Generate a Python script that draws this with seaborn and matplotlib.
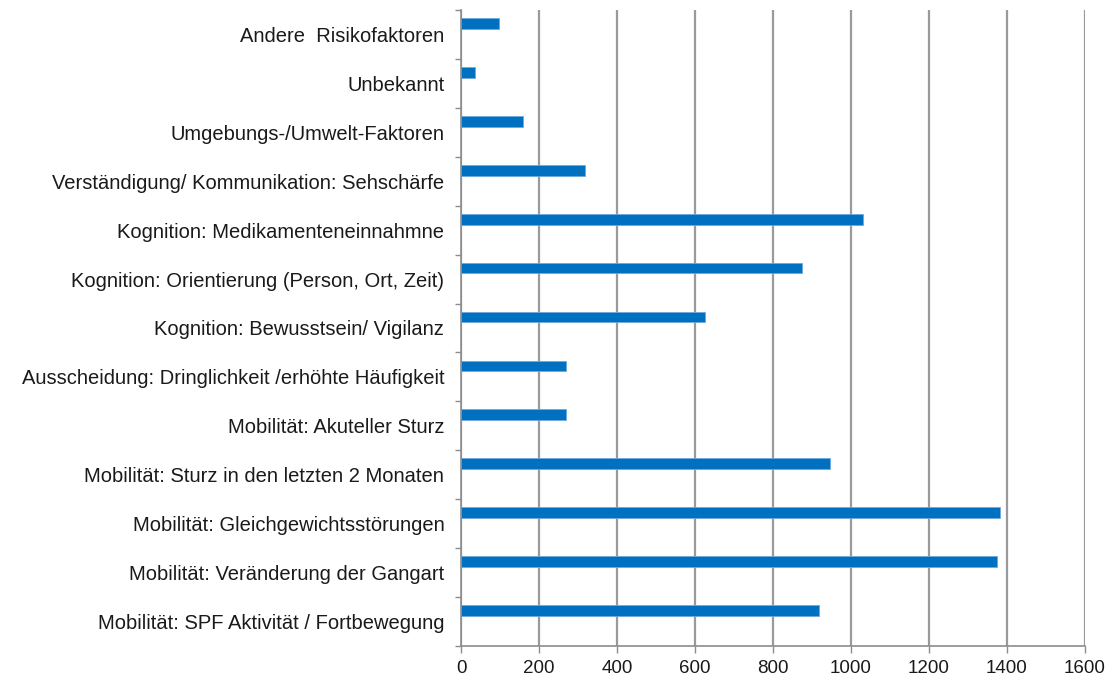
import pandas as pd
import matplotlib.pyplot as plt
import seaborn as sns
import numpy as np

# categories (top to bottom as in the chart)
faktoren = [
    'Andere  Risikofaktoren',
    'Unbekannt',
    'Umgebungs-/Umwelt-Faktoren',
    'Verständigung/ Kommunikation: Sehschärfe',
    'Kognition: Medikamenteneinnahmne',
    'Kognition: Orientierung (Person, Ort, Zeit)',
    'Kognition: Bewusstsein/ Vigilanz',
    'Ausscheidung: Dringlichkeit /erhöhte Häufigkeit',
    'Mobilität: Akuteller Sturz',
    'Mobilität: Sturz in den letzten 2 Monaten',
    'Mobilität: Gleichgewichtsstörungen',
    'Mobilität: Veränderung der Gangart',
    'Mobilität: SPF Aktivität / Fortbewegung',
]
anzahl = [97, 35, 159, 318, 1032, 874, 625, 270, 270, 945, 1383, 1375, 918]
x_ticks = [0, 200, 400, 600, 800, 1000, 1200, 1400, 1600]

df = pd.DataFrame({'Faktor': faktoren, 'Anzahl': anzahl, 'Reihe': 'Anzahl'})

sns.set_style('white')
plt.rcParams['font.family'] = ['Liberation Sans', 'DejaVu Sans']

fig = plt.figure(figsize=(11.12, 6.79), dpi=100)
ax = fig.add_axes([0.4146, 0.0486, 0.5611, 0.9367])

# Excel-like clustered layout: second (empty) slot keeps the bar above the label
sns.barplot(data=df, x='Anzahl', y='Faktor', hue='Reihe', hue_order=['Anzahl', 'leer'],
            palette={'Anzahl': '#0070C0', 'leer': '#0070C0'}, orient='h', dodge=True,
            width=0.9, gap=0.51, saturation=1, legend=False, ax=ax,
            edgecolor='#6fa8dc', linewidth=0.6)

ax.set_xlim(0, 1600)
ax.set_ylim(len(faktoren) - 0.5, -0.5)
ax.set_xticks(x_ticks)
ax.set_xticklabels([str(t) for t in x_ticks])
ax.xaxis.grid(True, color='#9a9a9a', linewidth=1.6)
ax.set_axisbelow(True)
ax.set_xlabel('')
ax.set_ylabel('')

for s in ['top', 'right']:
    ax.spines[s].set_visible(False)
for s in ['left', 'bottom']:
    ax.spines[s].set_color('#8c8c8c')
    ax.spines[s].set_linewidth(1.2)

ax.set_yticks(np.arange(-0.5, len(faktoren) + 0.5, 1), minor=True)
ax.tick_params(axis='y', which='major', left=False, length=0, pad=12, labelsize=14.5,
               labelcolor='#1a1a1a')
ax.tick_params(axis='y', which='minor', left=True, length=4, color='#8c8c8c', width=1)
ax.tick_params(axis='x', which='major', bottom=True, length=5, color='#8c8c8c', width=1,
               labelsize=13.5, labelcolor='#1a1a1a', pad=5)

fig.savefig('out.png', dpi=100, facecolor='white')
